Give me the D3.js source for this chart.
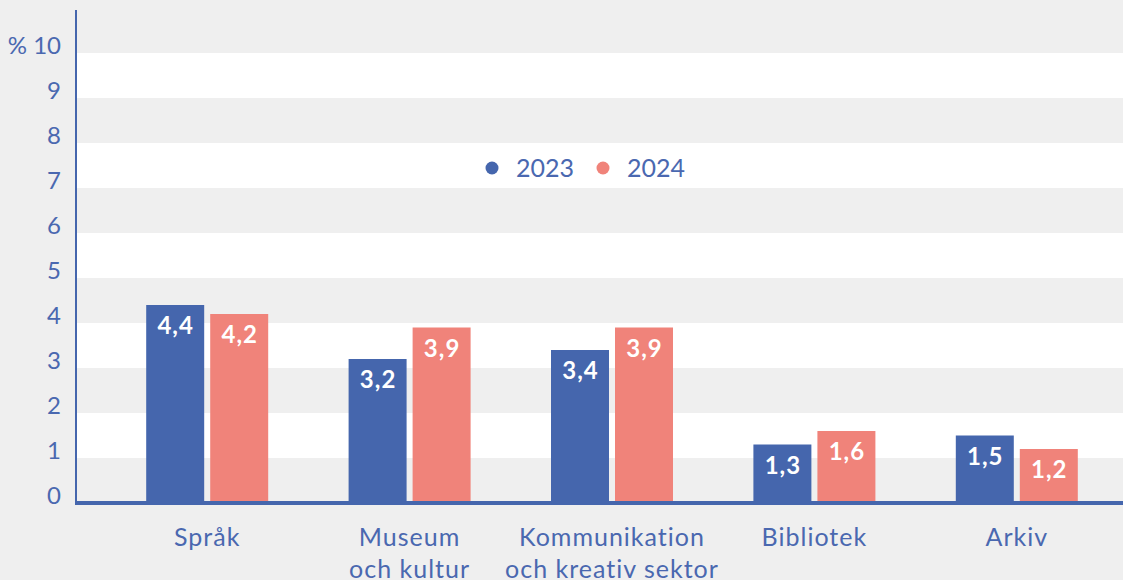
<!DOCTYPE html>
<html>
<head>
<meta charset="utf-8">
<script src="https://cdn.jsdelivr.net/npm/d3@7"></script>
<style>
  html, body { margin: 0; padding: 0; background: #efefef; }
  svg { display: block; font-family: Lato, "Open Sans", sans-serif; }
</style>
</head>
<body>
<div id="chart"></div>
<script>
var categories = [["Språk"], ["Museum", "och kultur"], ["Kommunikation", "och kreativ sektor"], ["Bibliotek"], ["Arkiv"]];
var years = ["2023", "2024"];
var values2023 = [4.4, 3.2, 3.4, 1.3, 1.5];
var values2024 = [4.2, 3.9, 3.9, 1.6, 1.2];
var yTicks = [0, 1, 2, 3, 4, 5, 6, 7, 8, 9, 10];

var width = 1123, height = 580;
var blue = "#4566ad", pink = "#f0837a", textBlue = "#4a68b0";

var svg = d3.select("#chart").append("svg")
    .attr("width", width)
    .attr("height", height);

svg.append("rect").attr("width", width).attr("height", height).attr("fill", "#efefef");

var y = d3.scaleLinear().domain([0, 10]).range([503, 53]);

var catNames = categories.map(function (c) { return c.join(" "); });
var x0 = d3.scaleBand().domain(catNames).range([106, 1118]).padding(0);
var groupW = 122;
var x1 = d3.scaleBand().domain(years).range([0, groupW]).paddingInner(0.094);

// alternating horizontal bands
var bands = d3.range(0, 10).filter(function (v) { return v % 2 === 1; });
svg.append("g").selectAll("rect")
    .data(bands)
    .join("rect")
    .attr("x", 77)
    .attr("width", width - 77)
    .attr("y", function (d) { return y(d + 1); })
    .attr("height", function (d) { return y(d) - y(d + 1); })
    .attr("fill", "#ffffff");

// y axis line + labels
svg.append("line")
    .attr("x1", 76).attr("x2", 76)
    .attr("y1", 10).attr("y2", y(0))
    .attr("stroke", blue).attr("stroke-width", 2);

svg.append("g").selectAll("text")
    .data(yTicks)
    .join("text")
    .attr("x", 61)
    .attr("y", function (d) { return y(d) + 1; })
    .attr("text-anchor", "end")
    .attr("fill", textBlue)
    .attr("font-size", 24)
    .text(function (d) { return d === 10 ? "% 10" : d; });

// bars
var rows = [];
catNames.forEach(function (c, i) {
    rows.push({cat: c, year: "2023", value: values2023[i]});
    rows.push({cat: c, year: "2024", value: values2024[i]});
});
var color = d3.scaleOrdinal().domain(years).range([blue, pink]);
var off = (x0.bandwidth() - groupW) / 2;

var bar = svg.append("g").selectAll("g")
    .data(rows)
    .join("g")
    .attr("transform", function (d) { return "translate(" + (x0(d.cat) + off + x1(d.year)) + ",0)"; });

bar.append("rect")
    .attr("y", function (d) { return y(d.value); })
    .attr("width", x1.bandwidth())
    .attr("height", function (d) { return y(0) - y(d.value); })
    .attr("fill", function (d) { return color(d.year); });

bar.append("text")
    .attr("x", x1.bandwidth() / 2 + 0.5)
    .attr("y", function (d) { return y(d.value) + 29; })
    .attr("text-anchor", "middle")
    .attr("fill", "#fff")
    .attr("font-weight", "bold")
    .attr("font-size", 24)
    .attr("letter-spacing", 1)
    .text(function (d) { return String(d.value.toFixed(1)).replace(".", ","); });

// baseline
svg.append("line")
    .attr("x1", 75).attr("x2", width)
    .attr("y1", y(0)).attr("y2", y(0))
    .attr("stroke", blue).attr("stroke-width", 4);

// category labels
var catG = svg.append("g").selectAll("text")
    .data(categories)
    .join("text")
    .attr("text-anchor", "middle")
    .attr("fill", textBlue)
    .attr("font-size", 25)
    .attr("letter-spacing", 1)
    .attr("x", function (d, i) { return x0(catNames[i]) + x0.bandwidth() / 2; })
    .attr("y", 546);
catG.selectAll("tspan")
    .data(function (d) { return d; })
    .join("tspan")
    .attr("x", function () { return d3.select(this.parentNode).attr("x"); })
    .attr("dy", function (d, i) { return i === 0 ? 0 : 32; })
    .text(function (d) { return d; });

// legend
var legend = svg.append("g").selectAll("g")
    .data(years)
    .join("g")
    .attr("transform", function (d, i) { return "translate(" + (492 + i * 111) + ",168)"; });
legend.append("circle").attr("r", 6.5).attr("fill", function (d) { return color(d); });
legend.append("text")
    .attr("x", 24).attr("y", 9)
    .attr("fill", textBlue)
    .attr("font-size", 25)
    .text(function (d) { return d; });
</script>
</body>
</html>
